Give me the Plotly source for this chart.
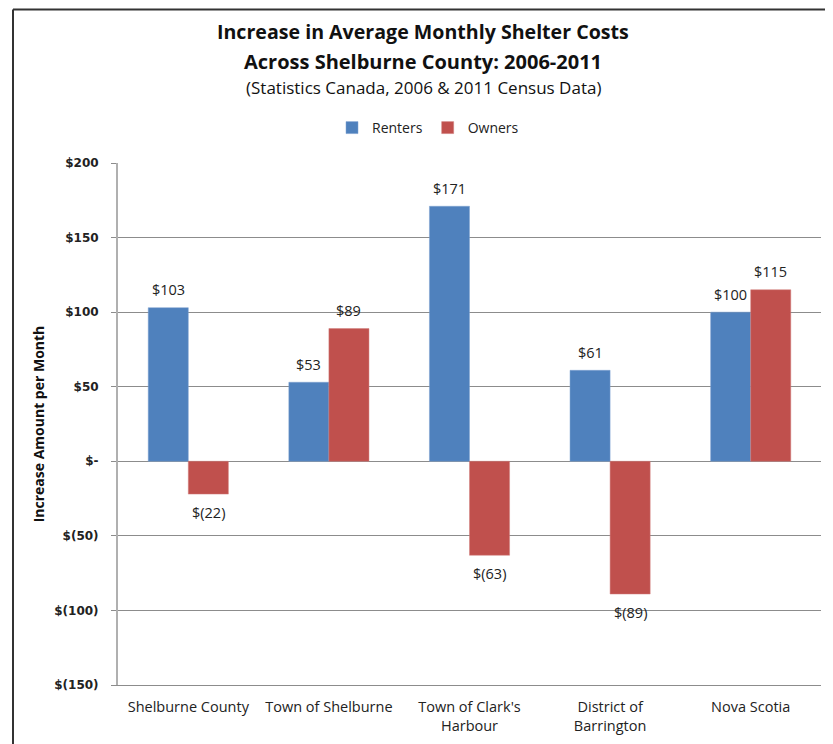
import plotly.graph_objects as go

# dados
categories = ["Shelburne County", "Town of Shelburne", "Town of Clark's<br>Harbour",
              "District of<br>Barrington", "Nova Scotia"]
renters = [103, 53, 171, 61, 100]
owners = [-22, 89, -63, -89, 115]
tick_vals = [200, 150, 100, 50, 0, -50, -100, -150]
tick_text = ["$200", "$150", "$100", "$50", "$-", "$(50)", "$(100)", "$(150)"]


def money(v):
    return f"${v}" if v >= 0 else f"$({-v})"


FONT = "Open Sans, Liberation Sans"

fig = go.Figure()
fig.add_trace(go.Bar(name="Renters", x=categories, y=renters,
                     marker=dict(color="#4F81BD", line=dict(color="#7fa3d0", width=0.5))))
fig.add_trace(go.Bar(name="Owners", x=categories, y=owners,
                     marker=dict(color="#C0504D", line=dict(color="#d07e7c", width=0.5))))

# a página tem 8px de margem no body
OFF = 8
W, H = 833 - OFF, 744 - OFF
L, T = 118 - OFF, 163 - OFF
R, B = W - (821 - OFF), H - (685 - OFF)
pw, ph = W - L - R, H - T - B


def py(p):
    # pixel da página -> coordenada paper
    return 1 + (T - (p - OFF)) / ph


def px(p):
    return ((p - OFF) - L) / pw


fx = px(13)
fy = py(9.5)
cx = px(423)

# rótulos de dados
annotations = []
for serie, shift in ((renters, -20), (owners, 20)):
    for cat, v in zip(categories, serie):
        annotations.append(dict(x=cat, y=v, xref="x", yref="y", text=money(v), showarrow=False,
                                xshift=shift, yshift=18 if v >= 0 else -18,
                                font=dict(family=FONT, size=14.5, color="#222")))

# título
annotations += [
    dict(x=cx, y=py(31), xref="paper", yref="paper", showarrow=False,
         xanchor="center", yanchor="middle",
         text="<b>Increase in Average Monthly Shelter Costs</b>",
         font=dict(family=FONT, size=19.6, color="#111")),
    dict(x=cx, y=py(62), xref="paper", yref="paper", showarrow=False,
         xanchor="center", yanchor="middle",
         text="<b>Across Shelburne County: 2006-2011</b>",
         font=dict(family=FONT, size=20, color="#111")),
    dict(x=cx, y=py(88), xref="paper", yref="paper", showarrow=False,
         xanchor="center", yanchor="middle",
         text="(Statistics Canada, 2006 &amp; 2011 Census Data)",
         font=dict(family=FONT, size=17, color="#111")),
]

fig.update_layout(
    width=W, height=H,
    margin=dict(l=L, r=R, t=T, b=B, autoexpand=False),
    paper_bgcolor="white", plot_bgcolor="white",
    barmode="group", bargap=0.43, bargroupgap=0,
    legend=dict(orientation="h", x=px(428), xanchor="center", y=py(128), yanchor="middle",
                font=dict(family=FONT, size=14, color="#222"),
                itemwidth=30, traceorder="normal"),
    font=dict(family=FONT, size=14, color="#222"),
    showlegend=True,
    annotations=annotations,
    shapes=[dict(type="line", xref="paper", yref="paper", x0=fx, x1=fx, y0=-0.2, y1=fy,
                 line=dict(color="#333", width=2)),
            dict(type="line", xref="paper", yref="paper", x0=fx, x1=1.1, y0=fy, y1=fy,
                 line=dict(color="#333", width=2))],
)

fig.update_yaxes(
    range=[-150, 200], tickvals=tick_vals, ticktext=tick_text,
    showgrid=True, gridcolor="#8c8c8c", gridwidth=1,
    zeroline=False, showline=True, linecolor="#b0b0b0", linewidth=2,
    ticks="outside", ticklen=5, tickcolor="#8c8c8c", ticklabelstandoff=10,
    tickfont=dict(family="DejaVu Sans", size=12, color="#222", weight="bold"),
    title=dict(text="<b>Increase Amount per Month</b>", standoff=6,
               font=dict(family=FONT, size=14, color="#111")),
)
fig.update_xaxes(
    showline=True, linecolor="#8c8c8c", linewidth=1, ticks="", ticklabelstandoff=9,
    tickfont=dict(family=FONT, size=14.5, color="#222"),
)

fig.write_html("out.html")
